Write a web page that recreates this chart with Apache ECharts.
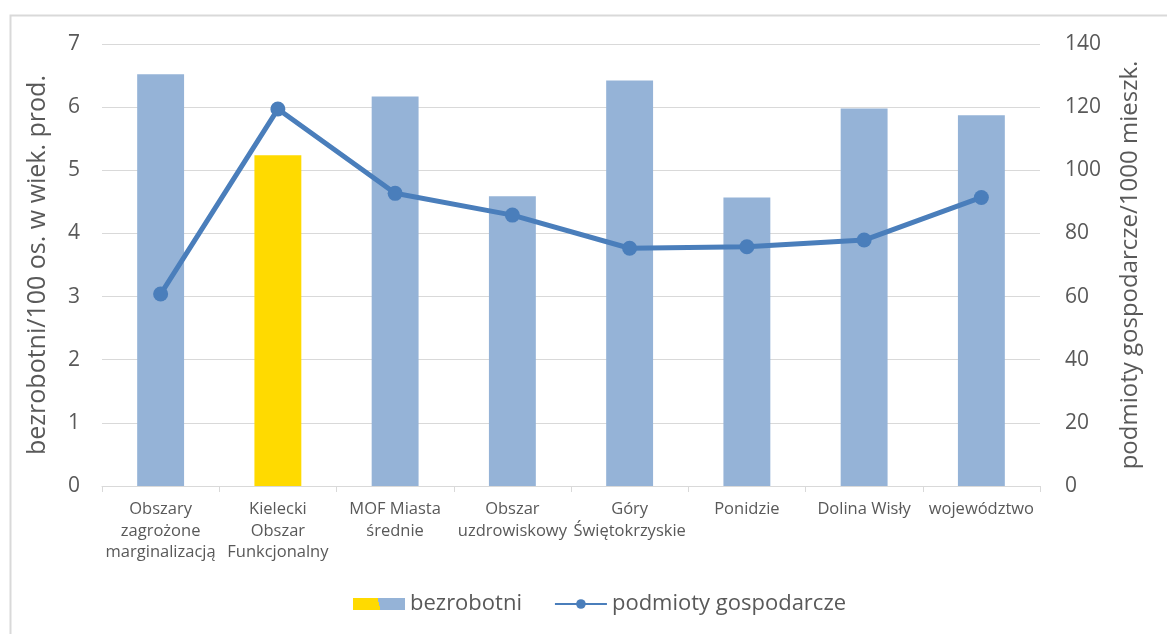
<!DOCTYPE html>
<html>
<head>
<meta charset="utf-8">
<script src="https://cdn.jsdelivr.net/npm/echarts@6/dist/echarts.min.js"></script>
<style>
html,body{margin:0;padding:0;background:#fff;}
#c{width:1167px;height:634px;}
</style>
</head>
<body>
<div id="c"></div>
<script>
const categories = [
  'Obszary\nzagrożone\nmarginalizacją',
  'Kielecki\nObszar\nFunkcjonalny',
  'MOF Miasta\nśrednie',
  'Obszar\nuzdrowiskowy',
  'Góry\nŚwiętokrzyskie',
  'Ponidzie',
  'Dolina Wisły',
  'województwo'
];
const bezrobotni = [6.52, 5.24, 6.17, 4.59, 6.42, 4.57, 5.98, 5.87];
const podmioty = [60.8, 119.4, 92.7, 85.8, 75.3, 75.8, 77.9, 91.4];
const highlightIndex = 1;
const leftTicks = {min: 0, max: 7, interval: 1};
const rightTicks = {min: 0, max: 140, interval: 20};

const blue = '#95B3D7';
const yellow = '#FFDA00';
const lineColor = '#4A7EBB';
const textColor = '#595959';
const font = 'Open Sans';

const chart = echarts.init(document.getElementById('c'));
chart.setOption({
  animation: false,
  backgroundColor: '#fff',
  textStyle: {fontFamily: font},
  graphic: [{
    type: 'rect', left: 8, top: 13, silent: true,
    shape: {width: 1250, height: 700},
    style: {fill: 'none', stroke: '#d9d9d9', lineWidth: 2}
  }],
  grid: {left: 102, right: 127, top: 44, bottom: 148},
  legend: {
    bottom: 14, left: 348, itemGap: 32, itemWidth: 52, itemHeight: 12,
    textStyle: {fontSize: 22, color: textColor, fontFamily: font},
    data: [
      {name: 'bezrobotni', icon: 'rect', itemStyle: {color: new echarts.graphic.LinearGradient(0, 1, 1, 0, [
        {offset: 0, color: yellow}, {offset: 0.5, color: yellow},
        {offset: 0.5, color: blue}, {offset: 1, color: blue}])}},
      {name: 'podmioty gospodarcze'}
    ]
  },
  xAxis: {
    type: 'category', data: categories,
    axisLine: {lineStyle: {color: '#d9d9d9', width: 1}},
    axisTick: {show: true, length: 6, lineStyle: {color: '#d9d9d9'}},
    axisLabel: {interval: 0, color: textColor, fontSize: 16.5, lineHeight: 21.5, margin: 13, fontFamily: font}
  },
  yAxis: [{
    type: 'value', min: leftTicks.min, max: leftTicks.max, interval: leftTicks.interval,
    name: 'bezrobotni/100 os. w wiek. prod.', nameLocation: 'middle', nameGap: 52,
    nameTextStyle: {fontSize: 25, color: textColor, fontFamily: font},
    axisLine: {show: false}, axisTick: {show: false},
    axisLabel: {color: textColor, fontSize: 21, margin: 22, fontFamily: font},
    splitLine: {lineStyle: {color: '#d9d9d9', width: 1}}
  }, {
    type: 'value', min: rightTicks.min, max: rightTicks.max, interval: rightTicks.interval,
    name: 'podmioty gospodarcze/1000 mieszk.', nameLocation: 'middle', nameGap: 78, nameRotate: 90,
    nameTextStyle: {fontSize: 24, color: textColor, fontFamily: font},
    axisLine: {show: false}, axisTick: {show: false},
    axisLabel: {color: textColor, fontSize: 21, margin: 25, fontFamily: font},
    splitLine: {show: false}
  }],
  series: [{
    name: 'bezrobotni', type: 'bar', yAxisIndex: 0, barWidth: '40%',
    itemStyle: {color: blue},
    data: bezrobotni.map((v, i) => i === highlightIndex ? {value: v, itemStyle: {color: yellow}} : v)
  }, {
    name: 'podmioty gospodarcze', type: 'line', yAxisIndex: 1,
    data: podmioty, symbol: 'circle', symbolSize: 15,
    lineStyle: {color: lineColor, width: 5},
    itemStyle: {color: lineColor}
  }]
});
</script>
</body>
</html>
